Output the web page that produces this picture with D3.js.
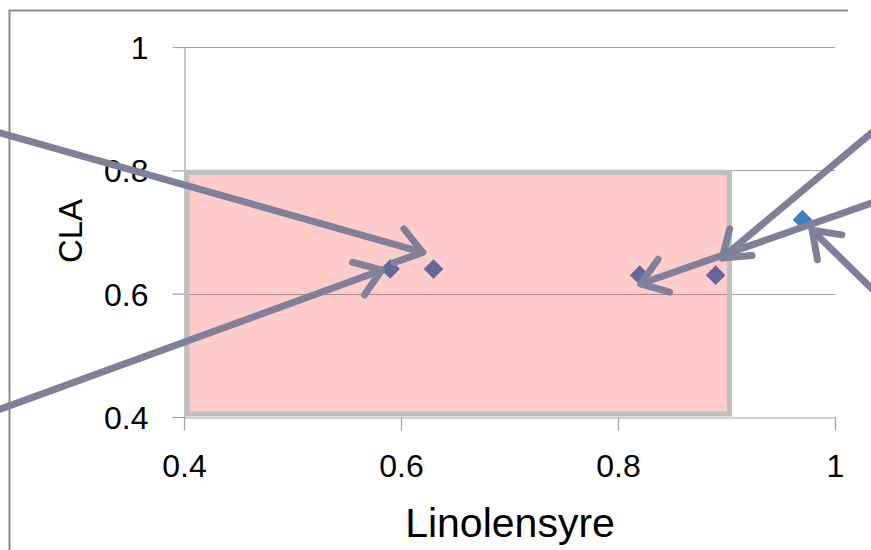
<!DOCTYPE html>
<html>
<head>
<meta charset="utf-8">
<script src="https://cdn.jsdelivr.net/npm/d3@7"></script>
<style>
  body { margin: 0; background: #fff; }
  text { font-family: "Liberation Sans", Arial, sans-serif; fill: #000; }
</style>
</head>
<body>
<script>
// data
var xValues = [0.59, 0.63, 0.82, 0.89, 0.97];
var yValues = [0.64, 0.64, 0.63, 0.63, 0.72];
var tickValues = [0.4, 0.6, 0.8, 1];
var tickLabels = ["0.4", "0.6", "0.8", "1"];
// highlighted box (x0, x1, y0, y1)
var boxX = [0.4, 0.9];
var boxY = [0.4, 0.8];
// arrows: start and tip in data units
var arrowStartX = [0.22, 0.22, 1.042, 1.042, 1.042];
var arrowStartY = [0.866, 0.406, 0.873, 0.752, 0.594];
var arrowTipX = [0.620, 0.582, 0.896, 0.821, 0.979];
var arrowTipY = [0.667, 0.638, 0.658, 0.616, 0.703];

function init(){
    var w = 871, h = 550;

    var x = d3.scaleLinear().domain([0.4, 1]).range([184, 835]);
    var y = d3.scaleLinear().domain([0.4, 1]).range([417, 47]);

    var svg = d3.select("body").append("svg")
        .attr("width", w).attr("height", h);

    // outer chart frame (cropped)
    svg.append("path")
        .attr("d", "M9.5," + h + "V10.5H848")
        .attr("fill", "none").attr("stroke", "#8c8c8c").attr("stroke-width", 2);

    // gridlines
    svg.selectAll(".grid")
        .data(tickValues.slice(1))
        .enter().append("line")
        .attr("x1", x(0.4)).attr("x2", x(1))
        .attr("y1", function(d){ return Math.round(y(d)) + 0.5; })
        .attr("y2", function(d){ return Math.round(y(d)) + 0.5; })
        .attr("stroke", "#a3a3a3").attr("stroke-width", 1.2);

    // axes
    var xAxis = d3.axisBottom(x).tickValues(tickValues)
        .tickFormat(function(d, i){ return tickLabels[i]; })
        .tickSize(13).tickSizeOuter(0).tickPadding(24);
    var yAxis = d3.axisLeft(y).tickValues(tickValues)
        .tickFormat(function(d, i){ return tickLabels[i]; })
        .tickSize(12).tickSizeOuter(0).tickPadding(24);

    var gx = svg.append("g").attr("transform", "translate(0," + (Math.round(y(0.4)) + 0.5) + ")").call(xAxis);
    var gy = svg.append("g").attr("transform", "translate(" + (Math.round(x(0.4)) + 0.5) + ",0)").call(yAxis);
    [gx, gy].forEach(function(g){
        g.selectAll("path, line").attr("stroke", "#a3a3a3").attr("stroke-width", 1.2);
        g.selectAll("text").style("font-size", "32px").attr("fill", "#000");
    });
    gx.selectAll("text").attr("dy", "0.69em");
    gy.selectAll("text").attr("dy", "0.36em");

    // points (diamonds)
    var diamond = d3.symbol().type(d3.symbolDiamond2).size(245);
    svg.selectAll(".pt")
        .data(xValues)
        .enter().append("path")
        .attr("d", diamond)
        .attr("transform", function(d, i){ return "translate(" + x(d) + "," + y(yValues[i]) + ")"; })
        .attr("fill", "#4080c2");

    // translucent highlight box
    svg.append("rect")
        .attr("x", x(boxX[0]) + 3)
        .attr("y", y(boxY[1]) + 2)
        .attr("width", x(boxX[1]) - x(boxX[0]))
        .attr("height", y(boxY[0]) - y(boxY[1]) - 5)
        .attr("fill", "rgba(255,0,0,0.2)")
        .attr("stroke", "#bfbfbf").attr("stroke-width", 5);

    // axis titles
    svg.append("text")
        .attr("x", 510).attr("y", 537)
        .attr("text-anchor", "middle")
        .style("font-size", "41px")
        .text("Linolensyre");
    svg.append("text")
        .attr("transform", "translate(82,231) rotate(-90)")
        .attr("text-anchor", "middle")
        .style("font-size", "33px")
        .text("CLA");

    // arrows
    var col = "#80809a";
    arrowTipX.forEach(function(tx, i){
        var x0 = x(arrowStartX[i]), y0 = y(arrowStartY[i]);
        var x1 = x(tx), y1 = y(arrowTipY[i]);
        var a = Math.atan2(y0 - y1, x0 - x1);
        var len = 30, spread = 0.62;
        svg.append("line")
            .attr("x1", x0).attr("y1", y0).attr("x2", x1).attr("y2", y1)
            .attr("stroke", col).attr("stroke-width", 7).attr("stroke-linecap", "round");
        svg.append("path")
            .attr("d", "M" + (x1 + len * Math.cos(a + spread)) + "," + (y1 + len * Math.sin(a + spread)) +
                "L" + x1 + "," + y1 +
                "L" + (x1 + len * Math.cos(a - spread)) + "," + (y1 + len * Math.sin(a - spread)))
            .attr("fill", "none").attr("stroke", col).attr("stroke-width", 7)
            .attr("stroke-linecap", "round").attr("stroke-linejoin", "round");
    });
}
window.onload = init;
</script>
</body>
</html>
